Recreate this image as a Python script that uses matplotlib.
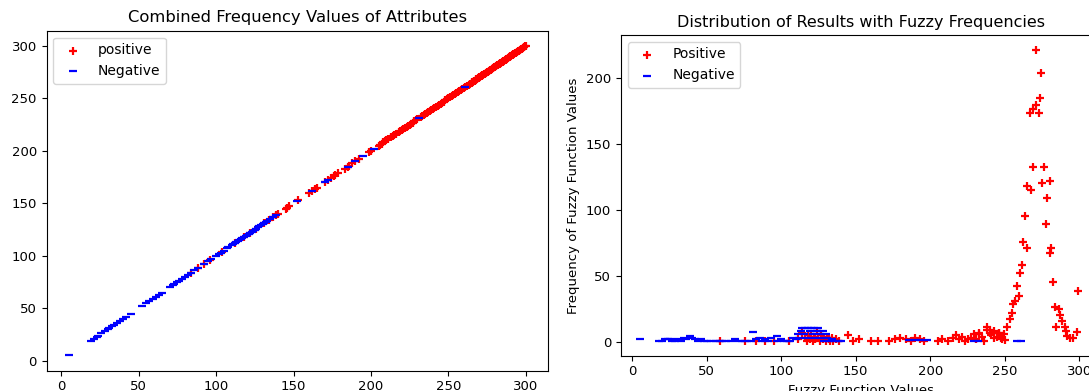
import matplotlib.pyplot as plt

# left chart: combined frequency values (plotted against themselves)
pos_combined = [84, 88, 92, 96, 104, 112, 118, 122, 126, 131, 134, 137, 139, 140, 145, 146, 147,
                153, 160, 162, 164, 165, 170, 172, 174, 176, 177, 179, 183, 185, 186, 188, 190, 192,
                199, 200, 205, 206, 207, 208, 209, 210, 211, 213, 214, 215, 216, 218, 219, 220, 221,
                222, 223, 224, 225, 226, 227, 228, 229, 230, 232, 233, 234, 235, 236, 237, 238, 239,
                240, 241, 242, 243, 244, 245, 246, 247, 248, 249, 250, 251, 252, 253, 254, 255, 256,
                257, 258, 259, 260, 261, 262, 263, 264, 265, 265.5, 266, 266.5, 267, 267.5, 268,
                268.5, 269, 269.5, 270, 270.5, 271, 271.5, 272, 272.5, 273, 273.5, 274, 274.5, 275,
                275.5, 276, 276.5, 277, 277.5, 278, 278.5, 279, 279.5, 280, 280.5, 281, 281.5, 282,
                282.5, 283, 283.5, 284, 284.5, 285, 285.5, 286, 286.5, 287, 287.5, 288, 288.5, 289,
                289.5, 290, 290.5, 291, 291.5, 292, 292.5, 293, 293.5, 294, 294.5, 295, 295.5, 296,
                296.5, 297, 297.5, 298, 298.5, 299, 299.5, 300]
neg_combined = [5, 19, 21, 23, 24, 26, 28, 30, 31, 33, 34, 36, 38, 40, 42, 45, 52, 55, 57, 59, 61,
                63, 65, 70, 72, 73, 75, 76, 78, 80, 82, 84, 86, 88, 92, 95, 97, 100, 102, 103, 105,
                107, 108, 110, 111, 112, 113, 114, 115, 116, 117, 118, 119, 120, 121, 122, 123, 124,
                125, 126, 127, 128, 129, 130, 131, 132, 133, 135, 137, 139, 152, 162, 170, 172, 185,
                190, 195, 202, 231, 261]

# right chart: fuzzy function values and their frequencies
pos_fuzzy = [59, 76, 83, 89, 95, 105, 111, 114, 116, 117, 118, 119, 120, 121, 122, 123, 124, 125,
             126, 127, 128, 129, 130, 131, 132, 133, 134, 135, 137, 139, 145, 148, 152, 160, 165,
             172, 176, 180, 184, 187, 190, 193, 196, 205, 208, 212, 215, 217, 219, 221, 223, 225,
             227, 229, 231, 232.5, 233, 235, 236, 237.8, 238, 240, 240.3, 241, 242.5, 243, 244.6,
             245.8, 246, 247.2, 248, 249.7, 250, 251.5, 253.7, 254.5, 255.6, 257, 258.1, 259.5,
             260.1, 261.3, 262.4, 263.3, 264.6, 265, 266.7, 267.3, 268.7, 269, 270.7, 271.1, 272.7,
             273.6, 274.2, 275, 276.5, 277.4, 278.5, 280, 280.2, 280.9, 282.3, 283.9, 284.6, 286.1,
             286.8, 288.4, 290.6, 291.3, 292, 293.5, 296, 298.6, 299.3]
pos_freq = [1, 1, 1, 1, 1, 1, 2, 7, 3, 1, 5, 2, 6, 1, 4, 2, 8, 3, 1, 5, 2, 4, 1, 3, 2, 1, 3, 1,
            2, 1, 5, 1, 2, 1, 1, 1, 2, 3, 2, 1, 3, 2, 1, 1, 2, 1, 3, 5, 2, 4, 1, 2,
            3, 6, 2, 6.3, 7, 4, 1, 11, 9, 9, 7, 5, 8, 3, 3.7,
            6.9, 7, 3, 2, 6.3, 1.2, 11.1, 17.5, 21.7, 29, 30.8, 42.6, 34.6,
            52.2, 58.3, 75.7, 95.6, 71.2, 118, 173.7, 115.2, 176.7, 132.4, 221.6, 180, 173.7,
            185, 204.5, 121, 132.4, 89.3, 109.4, 122.3, 67.8, 71.4, 45.1, 26.5, 11.1, 25,
            20.5, 16.2, 11.1, 8, 4.8, 2.8, 2.8, 7.3, 38.9]

neg_fuzzy = [5, 18, 20, 22, 24, 25.5, 27, 29, 31, 33, 35, 36, 39, 40, 42, 44, 46, 48, 50, 53, 56,
             58, 60, 63, 66, 69, 72, 74, 77, 80, 81, 83, 86, 87, 89, 91, 93, 97, 97, 100, 102, 104,
             106, 108, 110, 111, 112, 113, 114, 115, 116, 117, 118, 119, 120, 121, 122, 123, 124,
             125, 126, 127, 128, 129, 130, 131, 132, 134, 136, 138, 140, 186, 190, 194, 198, 229,
             232, 258, 261]
neg_freq = [2.3, 1, 1, 2, 2, 2.3, 1, 1, 2, 1, 3, 2, 4.3, 3, 2, 1, 2, 1, 1, 1, 1,
            1, 1, 1, 1, 2, 1, 1, 1, 1, 7.3, 2, 3, 1, 2, 1, 3, 4.6, 1, 2, 1, 1,
            1, 3, 2, 5.6, 3, 8.1, 10.6, 5.6, 10.6, 3, 10.6, 8.1, 10.6, 5.6, 10.6, 3, 8.1,
            10.6, 5.6, 3, 8.1, 1, 5.6, 3, 1, 2, 1, 1, 1, 1.5, 1.5, 1.5, 1.5, 1,
            1, 1, 1]

fig = plt.figure(figsize=(10.89, 3.91), dpi=100)

ax1 = fig.add_axes([0.0427, 0.0519, 0.4608, 0.8696])
ax1.scatter(pos_combined, pos_combined, marker='+', c='red', s=40, linewidths=1.6, label='positive')
ax1.scatter(neg_combined, neg_combined, marker='_', c='blue', s=40, linewidths=1.6, label='Negative')
ax1.set_xlim(-9.5, 314.5)
ax1.set_ylim(-9.5, 314.5)
ax1.set_title("Combined Frequency Values of Attributes", fontsize=11.8)
ax1.tick_params(labelsize=9.5)
ax1.legend(loc='upper left', fontsize=10)

ax2 = fig.add_axes([0.5702, 0.0903, 0.4408, 0.8202])
ax2.scatter(pos_fuzzy, pos_freq, marker='+', c='red', s=40, linewidths=1.6, label='Positive')
ax2.scatter(neg_fuzzy, neg_freq, marker='_', c='blue', s=40, linewidths=1.6, label='Negative')
ax2.set_xlim(-7.5, 314.5)
ax2.set_ylim(-10.5, 233)
ax2.set_title("Distribution of Results with Fuzzy Frequencies", fontsize=11.5)
ax2.set_xlabel("Fuzzy Function Values", fontsize=9.5)
ax2.set_ylabel("Frequency of Fuzzy Function Values", fontsize=9.5)
ax2.tick_params(labelsize=9.5)
ax2.legend(loc='upper left', fontsize=10)

fig.savefig("out.png", dpi=100)
